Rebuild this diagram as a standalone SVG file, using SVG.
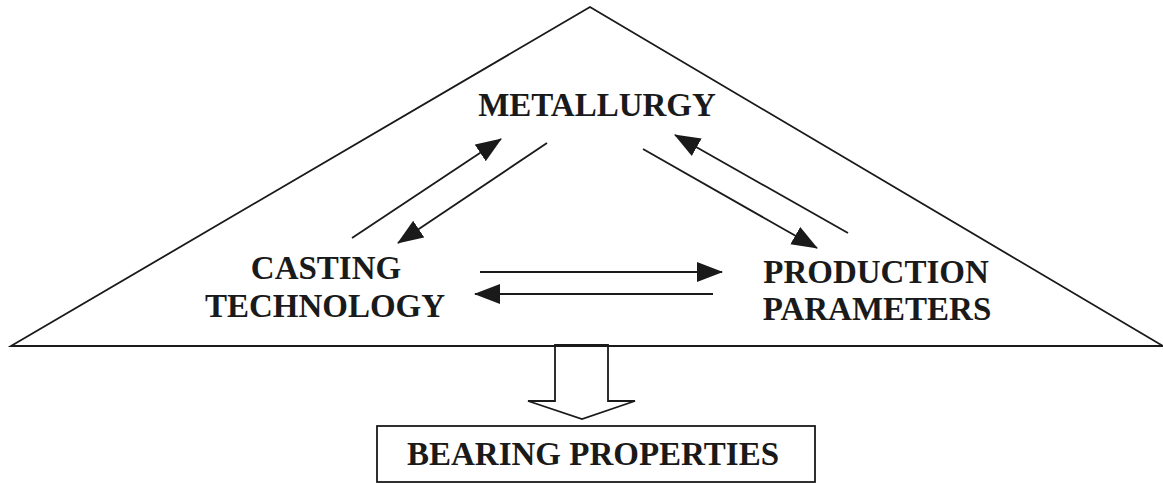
<svg xmlns="http://www.w3.org/2000/svg" width="1163" height="483" viewBox="0 0 1163 483">
<style>
.ln{stroke:#1a1a1a;stroke-width:1.8;fill:none}
.t{font-family:"Liberation Serif","Times New Roman",serif;font-weight:bold;font-size:33px;fill:#1a1a1a;text-anchor:middle}
</style>
<defs>
<marker id="ah" markerUnits="userSpaceOnUse" markerWidth="28" markerHeight="22" refX="25" refY="10" orient="auto">
<path d="M0,0 L26,10 L0,20 z" fill="#1a1a1a"/>
</marker>
</defs>
<rect width="1163" height="483" fill="#fff"/>
<g id="triangle">
<path class="ln" d="M11,346 L590,7 L1163,346 Z"/>
</g>
<g id="metallurgy"><text class="t" x="597" y="116">METALLURGY</text></g>
<g id="casting"><text class="t" x="326" y="279">CASTING</text><text class="t" x="325" y="317">TECHNOLOGY</text></g>
<g id="production"><text class="t" x="876" y="283">PRODUCTION</text><text class="t" x="877" y="320">PARAMETERS</text></g>
<g id="bigarrow">
<path class="ln" d="M555,345 L608,345 L608,401 L635,401 L582,419 L528,401 L555,401 Z"/>
</g>
<g id="bearing">
<rect class="ln" x="377" y="426" width="438" height="56"/>
<text class="t" x="593" y="465">BEARING PROPERTIES</text>
</g>
<g id="connectors">
<line class="ln" x1="352" y1="238" x2="501" y2="139" marker-end="url(#ah)"/>
<line class="ln" x1="547" y1="143" x2="398" y2="243" marker-end="url(#ah)"/>
<line class="ln" x1="643" y1="149" x2="817" y2="248" marker-end="url(#ah)"/>
<line class="ln" x1="848" y1="233" x2="675" y2="135" marker-end="url(#ah)"/>
<line class="ln" x1="480" y1="272" x2="722" y2="272" marker-end="url(#ah)"/>
<line class="ln" x1="713" y1="294" x2="475" y2="294" marker-end="url(#ah)"/>
</g>
</svg>
